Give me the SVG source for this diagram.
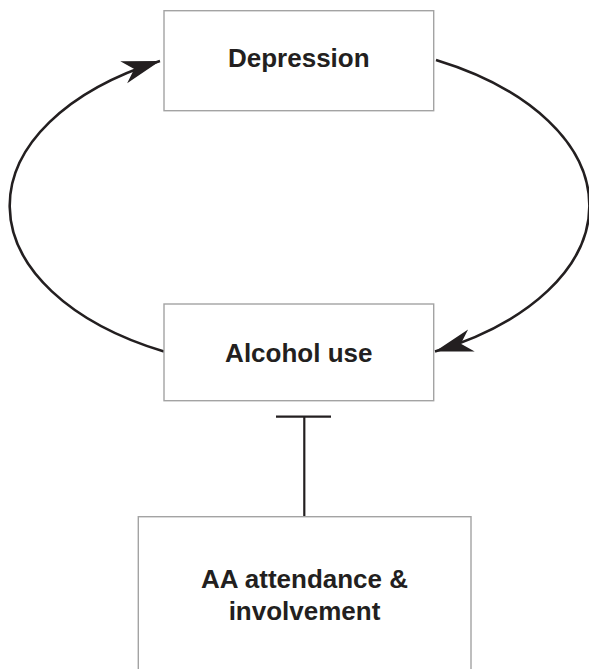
<svg xmlns="http://www.w3.org/2000/svg" width="589" height="669" viewBox="0 0 589 669">
<style>
.box{fill:#fff;stroke:#a3a3a3;stroke-width:1.4}
.lbl{font-family:"Liberation Sans",Arial,Helvetica,sans-serif;font-weight:bold;font-size:26px;fill:#231f20;text-anchor:middle}
.conn{fill:none;stroke:#231f20;stroke-width:2.6}
.inhib{fill:none;stroke:#231f20;stroke-width:2.2}
</style>
<defs>
<marker id="arr" markerUnits="userSpaceOnUse" viewBox="-40 -14 42 28" refX="0" refY="0" markerWidth="42" markerHeight="28" orient="auto">
<path d="M0,0 L-38,-11.5 L-27,0 L-38,11.5 Z" fill="#231f20"/>
</marker>
</defs>
<g id="connectors">
<path class="conn" d="M164,351.5 A289.7,165 0 0 1 160,61" marker-end="url(#arr)"/>
<path class="conn" d="M436,60 A289.7,165 0 0 1 435,351.5" marker-end="url(#arr)"/>
<line class="inhib" x1="304.3" y1="416.7" x2="304.3" y2="516.7"/>
<line class="inhib" x1="276" y1="416.7" x2="331" y2="416.7"/>
</g>
<g id="depression">
<rect class="box" x="164" y="10.7" width="269.7" height="100"/>
<text class="lbl" x="298.8" y="67.3">Depression</text>
</g>
<g id="alcohol">
<rect class="box" x="164" y="304" width="269.7" height="96.7"/>
<text class="lbl" x="298.8" y="361.5">Alcohol use</text>
</g>
<g id="aa">
<rect class="box" x="138.3" y="516.7" width="332.7" height="200"/>
<text class="lbl" x="304.5" y="588.3">AA attendance &amp;</text>
<text class="lbl" x="304.5" y="620">involvement</text>
</g>
</svg>
